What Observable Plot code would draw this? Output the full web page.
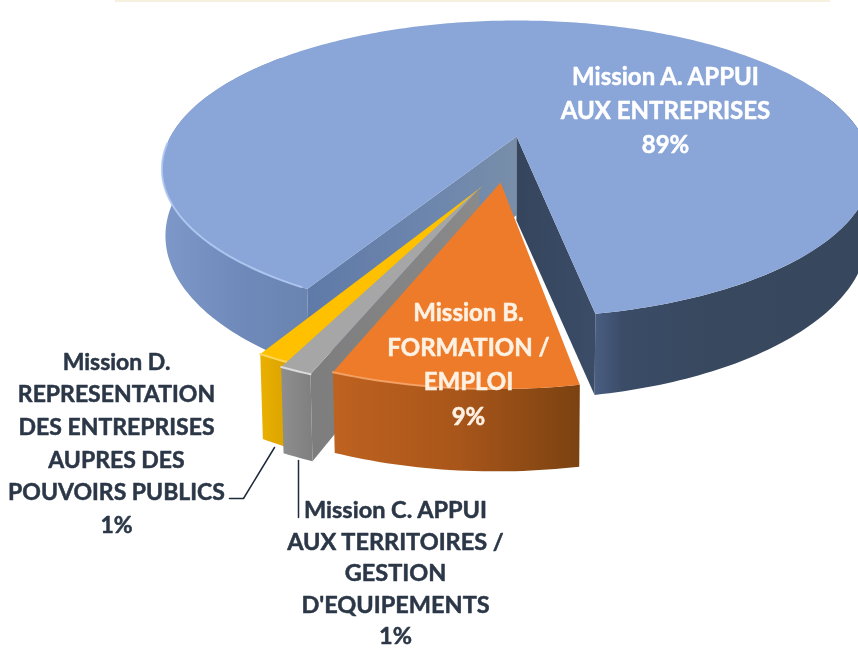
<!DOCTYPE html>
<html>
<head>
<meta charset="utf-8">
<script src="https://cdn.jsdelivr.net/npm/d3@7"></script>
<script src="https://cdn.jsdelivr.net/npm/@observablehq/plot@0.6"></script>
<style>html,body{margin:0;padding:0;background:#fff;overflow:hidden}svg{display:block}</style>
</head>
<body>
<div id="chart"></div>
<script>
// Data
const missions = ["Mission A", "Mission B", "Mission C", "Mission D"];
const shares = [89, 8.6, 1.2, 1.2];
const labelA = ["Mission A. APPUI", "AUX ENTREPRISES"];
const labelB = ["Mission B.", "FORMATION /", "EMPLOI"];
const labelC = ["Mission C. APPUI", "AUX TERRITOIRES /", "GESTION", "D'EQUIPEMENTS"];
const labelD = ["Mission D.", "REPRESENTATION", "DES ENTREPRISES", "AUPRES DES", "POUVOIRS PUBLICS"];
const pct = v => Math.round(v) + "%";

// Perspective model of the exploded disc
const cx = 516, cy = 136, RX = 346, RY = 141.4, P = 0.219, H = 63.6, SH = 0.99;
const firstAngle = 209.3;
const radius = [1, 0.98, 0.95, 0.95];
const shiftU = [0, -0.043, -0.10, -0.089];
const shiftV = [0, 0.304, 0.34, 0.322];
const depth = [1, 0.93, 1, 1];
const hubDropL = 1.24, hubDropR = 1.32;

function proj(u, v, down, k = 1) {
  const den = 1 - P * v;
  let x = RX * u / den, y = RY * v / den;
  if (down) { x *= SH; y += k * H / den; }
  return {x: cx + x, y: cy + y};
}
function ptAt(i, deg, down) {
  const a = deg * Math.PI / 180;
  return proj(shiftU[i] + radius[i] * Math.sin(a), shiftV[i] - radius[i] * Math.cos(a), down, depth[i]);
}
const apexOf = (i, down, k = depth[i]) => proj(shiftU[i], shiftV[i], down, k);
function arcPts(i, a0, a1, down) {
  const n = Math.max(2, Math.ceil(Math.abs(a1 - a0)));
  return d3.range(n + 1).map(k => ptAt(i, a0 + (a1 - a0) * k / n, down));
}
let cum = firstAngle;
const angles = shares.map(s => { const a0 = cum; cum += s * 3.6; return [a0, cum]; });

const topFill = ["#8aa5d7", "#ee7b2a", "#a6a6a6", "#ffc000"];
const poly = (pts, fill) => Plot.line(pts, {x: "x", y: "y", fill, stroke: "none", clip: true});
const edge = (pts, stroke, w, o = 1) => Plot.line(pts, {x: "x", y: "y", stroke, strokeWidth: w, strokeOpacity: o, clip: true});
const topFace = i => poly([apexOf(i), ...arcPts(i, angles[i][0], angles[i][1])], topFill[i]);
const rim = (i, a0, a1, fill) => poly([...arcPts(i, a0, a1), ...arcPts(i, a0, a1, true).reverse()], fill);
const wall = (i, a, fill, k = depth[i]) => poly([apexOf(i), ptAt(i, a), ptAt(i, a, true), apexOf(i, true, k)], fill);

const gradientDefs = () => {
  const d = d3.create("svg:defs");
  const grads = {
    blueLeftRim: [[0, "#7d98c9"], [0.5, "#6f8abb"], [1, "#6a84b0"]],
    blueRightRim: [[0, "#4a5e82"], [0.1, "#3b4c68"], [0.4, "#38485f"], [1, "#37475e"]],
    blueWallL: [[0, "#5f7aa8"], [0.6, "#6d86ad"], [1, "#788ea9"]],
    blueWallR: [[0, "#35455d"], [1, "#3b4c67"]],
    orangeRim: [[0, "#be6220"], [0.5, "#a9561a"], [1, "#7b4211"]],
    grayFront: [[0, "#8e8e8e"], [1, "#7f7f7f"]],
    grayWall: [[0, "#7d7d7d"], [1, "#8a8a8a"]],
    yellowFront: [[0, "#eab000"], [1, "#d8a200"]]
  };
  for (const [id, stops] of Object.entries(grads)) {
    const g = d.append("linearGradient").attr("id", id).attr("x1", 0).attr("x2", 1).attr("y1", 0).attr("y2", 0);
    stops.forEach(([o, c]) => g.append("stop").attr("offset", o).attr("stop-color", c));
  }
  return d.node();
};

// Labels
const textLines = (arr, x, y0, dy, fill, size, extra) => [...arr, extra].map((t, i) => ({t, x, y: y0 + i * dy, fill, size}));
const labelRows = [
  ...textLines(labelA, 665, 77, 34, "#fff", 24, pct(shares[0])),
  ...textLines(labelB, 468, 313, 34.6, "#fdf1e3", 24, pct(shares[1])),
  ...textLines(labelC, 395, 510, 31.6, "#2b3747", 23.5, pct(shares[2])),
  ...textLines(labelD, 116, 362, 32.6, "#2b3747", 23, pct(shares[3]))
];
const leaderD = [{x: 274, y: 447}, {x: 243, y: 498}, {x: 229, y: 498}];
const leaderC = [{x: 298, y: 460}, {x: 298, y: 517}];

const ang = angles;
const markList = [
  gradientDefs,
  Plot.ruleY([0], {x1: 115, x2: 830, stroke: "#f6f0df", strokeWidth: 3}),
  // Mission A
  rim(0, ang[0][0], ang[0][0] + 100, "url(#blueLeftRim)"),
  rim(0, ang[0][1] - 100, ang[0][1], "url(#blueRightRim)"),
  wall(0, ang[0][0], "url(#blueWallL)", hubDropL),
  wall(0, ang[0][1], "url(#blueWallR)", hubDropR),
  topFace(0),
  edge(arcPts(0, ang[0][0] + 1, ang[0][0] + 58), "#b2caf5", 2, 0.85),
  // Mission D
  rim(3, ang[3][0], ang[3][1], "url(#yellowFront)"),
  topFace(3),
  edge(arcPts(3, ang[3][0], ang[3][1]), "#ffd659", 2),
  // Mission C
  wall(2, ang[2][0], "url(#grayWall)"),
  rim(2, ang[2][0], ang[2][1], "url(#grayFront)"),
  topFace(2),
  edge(arcPts(2, ang[2][0], ang[2][1]), "#dcdcdc", 2),
  // Mission B
  rim(1, ang[1][0], ang[1][1], "url(#orangeRim)"),
  topFace(1),
  edge(arcPts(1, ang[1][0] + 10, ang[1][1]), "#f6a468", 2, 0.9),
  // Leaders
  Plot.line(leaderD, {x: "x", y: "y", stroke: "#1f2b3a", strokeWidth: 1.5}),
  Plot.line(leaderC, {x: "x", y: "y", stroke: "#1f2b3a", strokeWidth: 1.5}),
  // Text
  Plot.text(labelRows, {x: "x", y: "y", text: "t", fill: "fill", stroke: "fill", strokeWidth: 0.5, fontSize: "size",
    textAnchor: "middle", lineAnchor: "middle", fontFamily: "Lato", fontWeight: 700})
];

const chart = Plot.plot({
  width: 858, height: 648, margin: 0,
  x: {domain: [0, 858], range: [0, 858], axis: null},
  y: {domain: [0, 648], range: [0, 648], axis: null},
  style: {background: "#fff", filter: "blur(0.4px)"},
  marks: markList
});
document.getElementById("chart").append(chart);
</script>
</body>
</html>
